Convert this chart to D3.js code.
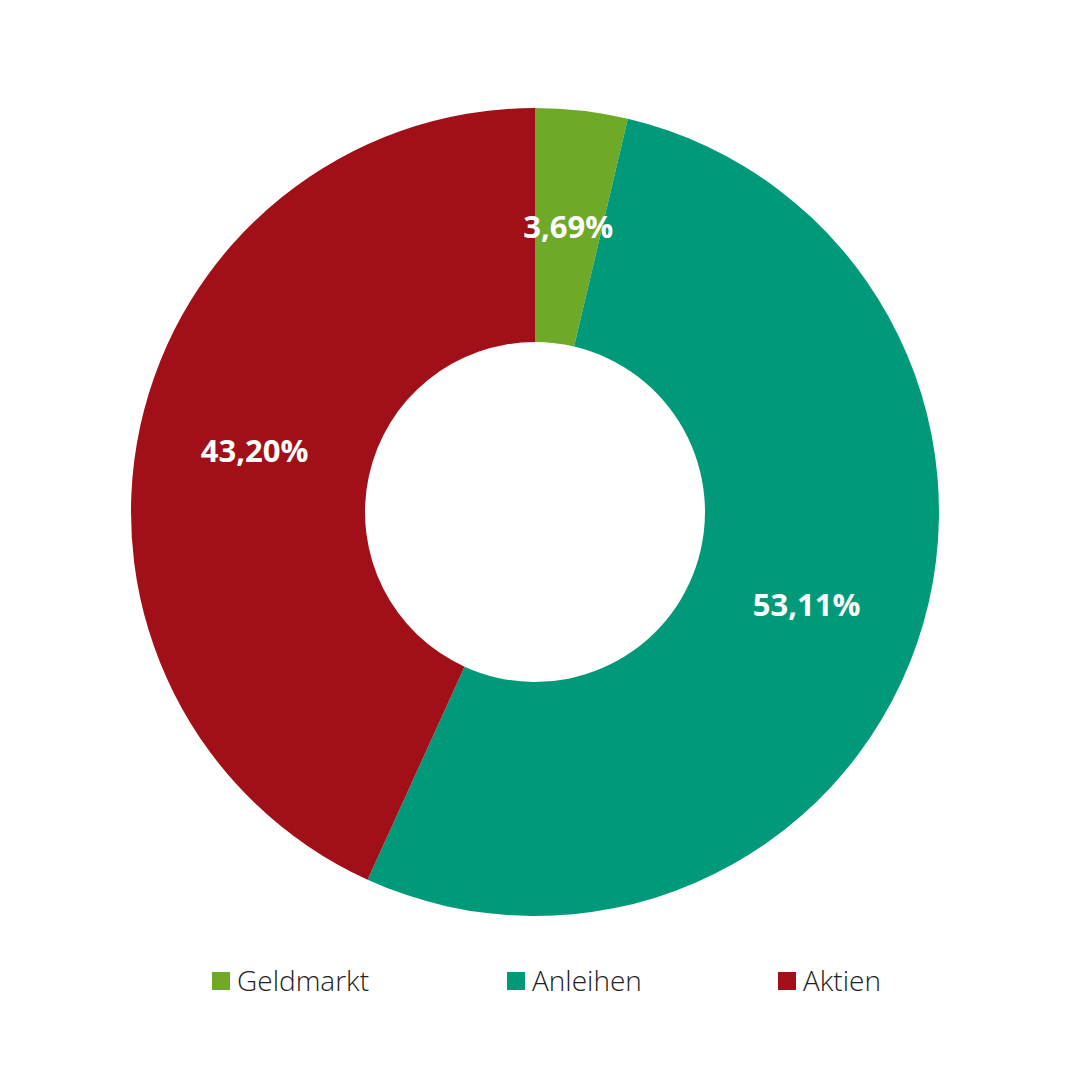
<!DOCTYPE html>
<html><head><meta charset="utf-8">
<script src="https://cdn.jsdelivr.net/npm/d3@7"></script>
<style>body{margin:0;background:#fff}</style></head>
<body><svg id="c" width="1080" height="1080"></svg>
<script>
const categories = ["Geldmarkt","Anleihen","Aktien"];
const values = [3.69, 53.11, 43.20];
const labels = ["3,69%","53,11%","43,20%"];
const colors = ["#6ea928","#009a7a","#a11018"];

const svg = d3.select("#c");
const g = svg.append("g").attr("transform","translate(535,512)");
const pie = d3.pie().sort(null).value(d=>d)(values);
const arc = d3.arc().innerRadius(170).outerRadius(404);
g.selectAll("path").data(pie).join("path").attr("d",arc).attr("fill",(d,i)=>colors[i]);
g.selectAll("text").data(pie).join("text")
  .attr("transform",d=>`translate(${arc.centroid(d)})`)
  .attr("text-anchor","middle").attr("dy","0.35em")
  .attr("fill","#fff").attr("font-family","Open Sans, sans-serif")
  .attr("font-weight","bold").attr("font-size",31)
  .text((d,i)=>labels[i]);

const lx = [212,507,778];
const lg = svg.append("g");
categories.forEach((c,i)=>{
  lg.append("rect").attr("x",lx[i]).attr("y",972).attr("width",18).attr("height",18).attr("fill",colors[i]);
  lg.append("text").attr("x",lx[i]+25).attr("y",981).attr("dy","0.35em")
    .attr("font-family","Open Sans, sans-serif").attr("font-weight",300).attr("font-size",28)
    .attr("fill","#222").text(c);
});
</script></body></html>
